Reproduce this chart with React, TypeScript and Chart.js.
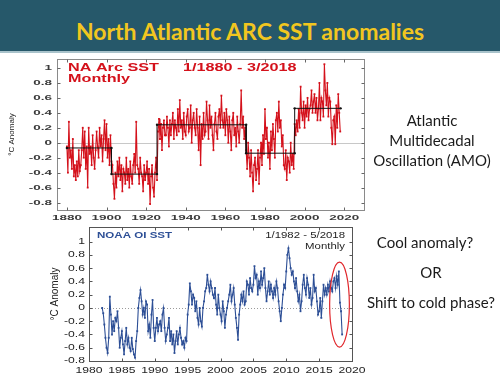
import React, { useEffect, useRef } from "react";
import { Chart, registerables } from "chart.js";

Chart.register(...registerables);

// ---------- slide text ----------
const TITLE = "North Atlantic ARC SST anomalies";
const AMO_LINES = ["Atlantic", "Multidecadal", "Oscillation (AMO)"];
const QUESTION_LINES = ["Cool anomaly?", "OR", "Shift to cold phase?"];
const Y_TITLE = "°C Anomaly";

// ---------- top chart: NA Arc SST (two readings per year) ----------
const TOP_START_YEAR = 1880;
const TOP_STEP = 0.5;
const TOP_VALUES = [
  -0.05, -0.4, 0.28, -0.2, -0.1, -0.35, 0.05, -0.45, -0.3, -0.5, -0.25, -0.45, -0.1, -0.38, -0.3, -0.1, 0.2, -0.2, 0.15, -0.35,
  -0.05, -0.6, 0.2, -0.15, -0.05, -0.3, 0.1, -0.2, -0.35, -0.1, 0.15, -0.05, -0.2, 0.2, -0.05, 0.1, -0.25, 0.05, 0.3, -0.1,
  0.25, -0.2, 0.05, -0.3, 0.1, -0.25, -0.3, -0.55, -0.75, -0.4, -0.6, -0.25, -0.45, -0.2, -0.5, -0.3, -0.65, -0.35, -0.4, -0.55,
  -0.2, -0.5, -0.35, -0.6, -0.25, -0.45, -0.55, -0.3, -0.15, -0.4, 0.28, -0.3, -0.35, -0.55, -0.2, -0.4, -0.45, -0.65, -0.3, -0.5,
  -0.4, -0.25, -0.55, -0.35, -0.82, -0.45, -0.3, -0.6, -0.72, -0.4, -0.2, -0.5, 0.15, 0.32, 0.05, 0.25, -0.1, 0.2, 0.3, 0.1,
  0.1, 0.35, 0.2, -0.05, 0.3, 0.1, 0.25, 0.4, 0.05, 0.3, 0.2, 0.1, 0.45, 0.15, 0.57, 0.2, 0.3, 0.05, 0.4, 0.15,
  0.1, 0.35, 0.45, 0.15, 0.2, 0.5, 0.0, 0.3, 0.4, 0.2, 0.1, 0.45, 0.2, -0.1, 0.35, -0.3, 0.25, 0.05, 0.4, 0.1,
  0.15, 0.55, 0.3, 0.05, 0.5, 0.2, 0.35, 0.1, -0.1, 0.25, 0.4, 0.15, 0.05, 0.35, 0.45, 0.2, 0.63, 0.3, 0.2, 0.4,
  0.1, 0.45, 0.3, 0.0, 0.35, 0.15, -0.1, 0.3, 0.4, 0.1, 0.2, -0.05, 0.35, 0.15, 0.0, 0.25, 0.7, 0.2, 0.35, 0.05,
  0.2, -0.1, -0.35, 0.0, -0.2, -0.45, -0.1, -0.4, -0.65, -0.3, -0.2, -0.5, -0.35, -0.1, -0.55, -0.2, 0.0, -0.3, 0.1, -0.15,
  0.45, 0.05, 0.2, -0.2, 0.0, -0.35, 0.15, -0.1, 0.25, 0.05, -0.2, 0.3, 0.4, 0.15, 0.55, 0.2, 0.3, -0.05, 0.1, -0.3,
  -0.35, -0.1, -0.5, -0.2, -0.25, -0.4, 0.0, -0.3, -0.15, -0.35, 0.25, 0.1, 0.3, 0.15, 0.45, 0.2, 0.75, 0.4, 0.3, 0.55,
  0.2, 0.5, 0.35, 0.6, 0.3, 0.45, 0.5, 0.7, 0.4, 0.55, 0.65, 0.4, 0.6, 0.3, 0.45, 0.8, 0.3, 0.6, 0.55, 0.35,
  1.05, 0.7, 0.5, 0.8, 0.35, 0.6, 0.55, 0.2, -0.02, 0.3, 0.35, -0.02, 0.5, 0.2, 0.65, 0.4, 0.15,
];
// regime means (step line)
const REGIME_YEARS = [1880, 1902.5, 1902.5, 1925.5, 1925.5, 1970.5, 1970.5, 1995, 1995, 2018.2];
const REGIME_VALUES = [-0.07, -0.07, -0.42, -0.42, 0.24, 0.24, -0.14, -0.14, 0.46, 0.46];
const TOP_X_TICKS = [1880, 1900, 1920, 1940, 1960, 1980, 2000, 2020];
const TOP_Y_TICKS = [-0.8, -0.6, -0.4, -0.2, 0, 0.2, 0.4, 0.6, 0.8, 1];
const TOP_LABEL_NAME = "NA Arc SST";
const TOP_LABEL_RANGE = "1/1880 - 3/2018";
const TOP_LABEL_FREQ = "Monthly";

// ---------- bottom chart: NOAA OI SST (six readings per year) ----------
const BOTTOM_START_YEAR = 1982;
const BOTTOM_STEP = 1 / 6;
const BOTTOM_VALUES = [
  0.0, -0.08, -0.25, -0.45, -0.6, -0.68,
  -0.45, 0.17, -0.1, -0.4, -0.2, -0.35,
  -0.15, -0.2, -0.05, -0.3, -0.6, -0.45,
  -0.35, -0.55, -0.7, -0.5, -0.3, -0.55,
  -0.45, -0.6, -0.65, -0.45, -0.62, -0.7,
  -0.75, -0.5, -0.35, 0.0, 0.15, 0.27,
  0.1, -0.1, 0.0, -0.15, 0.1, 0.05,
  -0.35, -0.25, -0.45, -0.1, 0.12, -0.3,
  -0.5, -0.3, -0.15, -0.35, -0.25, -0.2,
  -0.35, -0.1, 0.0, -0.3, -0.5, -0.4,
  -0.3, -0.15, -0.5, -0.35, -0.55, -0.4,
  -0.68, -0.5, -0.35, -0.55, -0.4, -0.3,
  -0.45, -0.55, -0.5, -0.6, -0.45, -0.5,
  -0.1, 0.05, 0.37, 0.25, 0.05, 0.2,
  0.15, -0.05, 0.1, -0.15, -0.25, 0.0,
  -0.2, -0.28, 0.0, 0.1, 0.25, 0.3,
  0.5, 0.35, 0.25, 0.4, 0.3, 0.2,
  0.15, 0.3, 0.05, -0.1, 0.2, 0.0,
  -0.1, -0.2, 0.1, -0.05, -0.3, -0.1,
  0.0, 0.1, 0.2, 0.35, 0.1, 0.2,
  0.3, 0.05, -0.15, -0.3, -0.48, -0.1,
  0.05, 0.2, 0.1, 0.25, 0.05, 0.1,
  0.4, 0.35, 0.2, 0.45, 0.3, 0.25,
  0.35, 0.63, 0.45, 0.5, 0.2, 0.4,
  0.3, 0.55, 0.35, 0.45, 0.6, 0.3,
  0.1, 0.25, 0.4, 0.2, 0.35, 0.25,
  0.15, 0.3, 0.2, 0.4, 0.3, 0.1,
  -0.05, -0.2, 0.0, 0.2, 0.35, 0.3,
  0.55, 0.8, 0.9, 0.75, 0.6, 0.5,
  0.55, 0.4, 0.3, 0.45, 0.25, 0.1,
  0.2, -0.05, 0.1, 0.35, 0.5, 0.3,
  0.2, 0.45, 0.35, 0.15, 0.3, 0.05,
  0.15, 0.5, 0.25, 0.3, 0.1, -0.1,
  -0.05, 0.15, -0.15, 0.1, 0.35, 0.2,
  0.3, 0.2, 0.35, 0.25, 0.4, 0.3,
  0.25, 0.4, 0.45, 0.3, 0.48, 0.35,
  0.55, 0.08, -0.05, -0.4,
];
const BOTTOM_X_TICKS = [1980, 1985, 1990, 1995, 2000, 2005, 2010, 2015, 2020];
const BOTTOM_Y_TICKS = [-0.8, -0.6, -0.4, -0.2, 0, 0.2, 0.4, 0.6, 0.8, 1];
const BOTTOM_LABEL_NAME = "NOAA OI SST";
const BOTTOM_LABEL_RANGE = "1/1982 - 5/2018";
const BOTTOM_LABEL_FREQ = "Monthly";
// highlighted recent drop (ellipse, in data units)
const HIGHLIGHT_CENTER = { x: 2018.1, y: 0.05 };
const HIGHLIGHT_HALF = { x: 1.5, y: 0.64 };

// ---------- helpers ----------
const fmtY = (v: number) => String(Math.round(v * 10) / 10);
const fmtX = (v: number) => String(v);

type Txt = { text: string; font: string; color: string; sx: number; dx: number; dy: number; from: "left" | "right" };
type Deco = {
  id: string;
  frameColor: string;
  tickColor: string;
  tickLen: number;
  xTicks: number[];
  yTicks: number[];
  labelFont: string;
  labelColor: string;
  labelSx: number;
  xLabelGap: number;
  yLabelGap: number;
  yTitleX: number;
  yTitleFont: string;
  zeroColor: string;
  zeroDash: number[];
  texts: Txt[];
  ellipse?: { cx: number; cy: number; hx: number; hy: number; color: string };
};

function stretched(ctx: CanvasRenderingContext2D, text: string, x: number, y: number, sx: number, align: CanvasTextAlign) {
  ctx.save();
  ctx.translate(x, y);
  ctx.scale(sx, 1);
  ctx.textAlign = align;
  ctx.textBaseline = "middle";
  ctx.fillText(text, 0, 0);
  ctx.restore();
}

function makeDeco(d: Deco) {
  return {
    id: d.id,
    beforeDatasetsDraw(chart: any) {
      const { ctx, chartArea: a, scales } = chart;
      const y0 = Math.round(scales.y.getPixelForValue(0)) + 0.5;
      ctx.save();
      ctx.strokeStyle = d.zeroColor;
      ctx.lineWidth = 1;
      ctx.setLineDash(d.zeroDash);
      ctx.beginPath();
      ctx.moveTo(a.left, y0);
      ctx.lineTo(a.right, y0);
      ctx.stroke();
      ctx.restore();
    },
    afterDatasetsDraw(chart: any) {
      const { ctx, chartArea: a, scales } = chart;
      const xs = scales.x;
      const ys = scales.y;
      ctx.save();
      if (d.ellipse) {
        const e = d.ellipse;
        const cx = xs.getPixelForValue(e.cx);
        const cy = ys.getPixelForValue(e.cy);
        const rx = Math.abs(xs.getPixelForValue(e.cx + e.hx) - cx);
        const ry = Math.abs(ys.getPixelForValue(e.cy + e.hy) - cy);
        ctx.strokeStyle = e.color;
        ctx.lineWidth = 1.2;
        ctx.beginPath();
        ctx.ellipse(cx, cy, rx, ry, 0, 0, Math.PI * 2);
        ctx.stroke();
      }
      const L = Math.round(a.left) + 0.5;
      const R = Math.round(a.right) + 0.5;
      const T = Math.round(a.top) + 0.5;
      const B = Math.round(a.bottom) + 0.5;
      ctx.strokeStyle = d.frameColor;
      ctx.lineWidth = 1;
      ctx.strokeRect(L, T, R - L, B - T);
      ctx.strokeStyle = d.tickColor;
      ctx.beginPath();
      for (const v of d.xTicks) {
        const px = Math.round(xs.getPixelForValue(v)) + 0.5;
        ctx.moveTo(px, B);
        ctx.lineTo(px, B - d.tickLen);
        ctx.moveTo(px, T);
        ctx.lineTo(px, T + d.tickLen);
      }
      for (const v of d.yTicks) {
        const py = Math.round(ys.getPixelForValue(v)) + 0.5;
        ctx.moveTo(L, py);
        ctx.lineTo(L + d.tickLen, py);
        ctx.moveTo(R, py);
        ctx.lineTo(R - d.tickLen, py);
      }
      ctx.stroke();
      ctx.fillStyle = d.labelColor;
      ctx.font = d.labelFont;
      for (const v of d.xTicks) {
        stretched(ctx, fmtX(v), xs.getPixelForValue(v), a.bottom + d.xLabelGap, d.labelSx, "center");
      }
      for (const v of d.yTicks) {
        stretched(ctx, fmtY(v), a.left - d.yLabelGap, ys.getPixelForValue(v), d.labelSx, "right");
      }
      ctx.save();
      ctx.translate(d.yTitleX, (a.top + a.bottom) / 2);
      ctx.rotate(-Math.PI / 2);
      ctx.font = d.yTitleFont;
      ctx.fillStyle = "#222";
      ctx.textAlign = "center";
      ctx.textBaseline = "middle";
      ctx.fillText(Y_TITLE, 0, 0);
      ctx.restore();
      for (const t of d.texts) {
        ctx.font = t.font;
        ctx.fillStyle = t.color;
        const x = t.from === "left" ? a.left + t.dx : a.right - t.dx;
        stretched(ctx, t.text, x, a.top + t.dy, t.sx, t.from === "left" ? "left" : "right");
      }
      ctx.restore();
    },
  };
}

const RED = "#d4111b";
const BLUE = "#2d4f96";

export default function App() {
  const topRef = useRef<HTMLCanvasElement>(null);
  const botRef = useRef<HTMLCanvasElement>(null);

  useEffect(() => {
    const topPoints = TOP_VALUES.map((v, i) => ({ x: TOP_START_YEAR + i * TOP_STEP, y: v }));
    const regimePoints = REGIME_YEARS.map((x, i) => ({ x, y: REGIME_VALUES[i] }));
    const botPoints = BOTTOM_VALUES.map((v, i) => ({ x: BOTTOM_START_YEAR + i * BOTTOM_STEP, y: v }));

    const topDeco = makeDeco({
      id: "decoTop",
      frameColor: "#8a8a8a",
      tickColor: "#666",
      tickLen: 3,
      xTicks: TOP_X_TICKS,
      yTicks: TOP_Y_TICKS,
      labelFont: 'bold 8px "Liberation Sans", Arial, sans-serif',
      labelColor: "#3a3a3a",
      labelSx: 1.68,
      xLabelGap: 8,
      yLabelGap: 5,
      yTitleX: 12,
      yTitleFont: '8px "Liberation Sans Narrow", "Liberation Sans", Arial, sans-serif',
      zeroColor: "#c8c8c8",
      zeroDash: [],
      texts: [
        { text: TOP_LABEL_NAME, font: 'bold 10px "Liberation Sans", Arial, sans-serif', color: RED, sx: 1.62, dx: 11, dy: 9, from: "left" },
        { text: TOP_LABEL_RANGE, font: 'bold 10px "Liberation Sans", Arial, sans-serif', color: RED, sx: 1.62, dx: 126, dy: 9, from: "left" },
        { text: TOP_LABEL_FREQ, font: 'bold 10px "Liberation Sans", Arial, sans-serif', color: RED, sx: 1.62, dx: 11, dy: 20, from: "left" },
      ],
    });

    const botDeco = makeDeco({
      id: "decoBot",
      frameColor: "#555",
      tickColor: "#555",
      tickLen: 3,
      xTicks: BOTTOM_X_TICKS,
      yTicks: BOTTOM_Y_TICKS,
      labelFont: '9px "Liberation Sans", Arial, sans-serif',
      labelColor: "#1e1e1e",
      labelSx: 1.35,
      xLabelGap: 10,
      yLabelGap: 4,
      yTitleX: 55,
      yTitleFont: '10px "Liberation Sans Narrow", "Liberation Sans", Arial, sans-serif',
      zeroColor: "#9a9a9a",
      zeroDash: [1, 2],
      texts: [
        { text: BOTTOM_LABEL_NAME, font: 'bold 8.5px "Liberation Sans", Arial, sans-serif', color: BLUE, sx: 1.36, dx: 8, dy: 9, from: "left" },
        { text: BOTTOM_LABEL_RANGE, font: '8.5px "Liberation Sans", Arial, sans-serif', color: "#1e1e1e", sx: 1.34, dx: 7, dy: 9, from: "right" },
        { text: BOTTOM_LABEL_FREQ, font: '8.5px "Liberation Sans", Arial, sans-serif', color: "#1e1e1e", sx: 1.34, dx: 7, dy: 20, from: "right" },
      ],
      ellipse: { cx: HIGHLIGHT_CENTER.x, cy: HIGHLIGHT_CENTER.y, hx: HIGHLIGHT_HALF.x, hy: HIGHLIGHT_HALF.y, color: "#e0262b" },
    });

    const top = new Chart(topRef.current!, {
      type: "line",
      data: {
        datasets: [
          {
            data: regimePoints,
            borderColor: "#111",
            borderWidth: 1,
            pointRadius: 1.2,
            pointBackgroundColor: "#111",
            pointBorderWidth: 0,
            tension: 0,
          },
          {
            data: topPoints,
            borderColor: RED,
            borderWidth: 1.1,
            pointRadius: 1.3,
            pointStyle: "rect",
            pointBackgroundColor: RED,
            pointBorderWidth: 0,
            tension: 0,
          },
        ],
      },
      options: {
        responsive: false,
        animation: false,
        devicePixelRatio: 1,
        events: [],
        layout: { padding: { left: 57, right: 6, top: 7, bottom: 20 } },
        plugins: { legend: { display: false }, tooltip: { enabled: false } },
        scales: {
          x: { type: "linear", min: 1875, max: 2030, display: false },
          y: { type: "linear", min: -0.9, max: 1.12, display: false },
        },
      },
      plugins: [topDeco],
    } as any);

    const bot = new Chart(botRef.current!, {
      type: "line",
      data: {
        datasets: [
          {
            data: botPoints,
            borderColor: BLUE,
            borderWidth: 1.1,
            pointRadius: 1.3,
            pointStyle: "rect",
            pointBackgroundColor: BLUE,
            pointBorderWidth: 0,
            tension: 0,
          },
        ],
      },
      options: {
        responsive: false,
        animation: false,
        devicePixelRatio: 1,
        events: [],
        layout: { padding: { left: 89, right: 18, top: 5, bottom: 14 } },
        plugins: { legend: { display: false }, tooltip: { enabled: false } },
        scales: {
          x: { type: "linear", min: 1980, max: 2020, display: false },
          y: { type: "linear", min: -0.8, max: 1.22, display: false },
        },
      },
      plugins: [botDeco],
    } as any);

    return () => {
      top.destroy();
      bot.destroy();
    };
  }, []);

  const sideText = (text: string, cx: number, cy: number, key: string) => (
    <div
      key={key}
      style={{
        position: "absolute",
        left: cx - 80,
        width: 160,
        top: cy - 10,
        height: 20,
        lineHeight: "20px",
        textAlign: "center",
        fontFamily: "Lato, 'Open Sans', sans-serif",
        fontSize: 15,
        color: "#1a1a1a",
        whiteSpace: "nowrap",
      }}
    >
      {text}
    </div>
  );

  return (
    <div
      style={{
        position: "fixed",
        left: 0,
        top: 0,
        width: 500,
        height: 375,
        background: "#ffffff",
        overflow: "hidden",
      }}
    >
      <div style={{ position: "absolute", left: 0, top: 0, width: 500, height: 51, background: "#26586a" }} />
      <div style={{ position: "absolute", left: 0, top: 51, width: 500, height: 2, background: "#a9c3cb" }} />
      <div
        style={{
          position: "absolute",
          left: 0,
          width: 500,
          top: 19,
          height: 24,
          lineHeight: "24px",
          textAlign: "center",
          fontFamily: "Lato, sans-serif",
          fontWeight: 700,
          fontSize: 23,
          color: "#f2c61f",
          whiteSpace: "nowrap",
        }}
      >
        {TITLE}
      </div>
      <canvas
        ref={topRef}
        width={370}
        height={178}
        style={{ position: "absolute", left: 0, top: 52, width: 370, height: 178 }}
      />
      <canvas
        ref={botRef}
        width={370}
        height={153}
        style={{ position: "absolute", left: 0, top: 222, width: 370, height: 153 }}
      />
      {sideText(AMO_LINES[0], 432, 120, "a0")}
      {sideText(AMO_LINES[1], 432, 140, "a1")}
      {sideText(AMO_LINES[2], 432, 160, "a2")}
      {sideText(QUESTION_LINES[0], 425, 242, "q0")}
      {sideText(QUESTION_LINES[1], 431, 272, "q1")}
      {sideText(QUESTION_LINES[2], 431, 302, "q2")}
    </div>
  );
}
